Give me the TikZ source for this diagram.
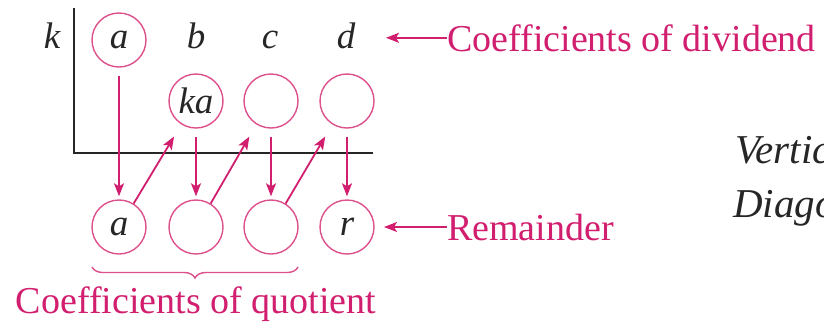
\documentclass[tikz,border=0pt]{standalone}
\usepackage{fontspec}
\setmainfont{Liberation Serif}
\usetikzlibrary{arrows.meta,decorations.pathreplacing}
\definecolor{mag}{RGB}{210,30,110}
\definecolor{ring}{RGB}{222,80,140}
\begin{document}
\begin{tikzpicture}[x=1pt,y=-1pt,
  circ/.style={circle,draw=ring,line width=1.4pt,minimum size=54pt,inner sep=0pt,
    font=\fontsize{37}{40}\selectfont\itshape,text=black!85},
  lbl/.style={text=mag,font=\fontsize{38}{40}\selectfont,anchor=base west,inner sep=0pt},
  var/.style={font=\fontsize{37}{40}\selectfont\itshape,anchor=base,inner sep=0pt,text=black!85},
  side/.style={font=\fontsize{41}{44}\selectfont\itshape,anchor=base west,inner sep=0pt,text=black!85},
  arr/.style={draw=mag,line width=1.8pt,-{Stealth[length=13pt,width=10pt,inset=3pt]}},
  axis/.style={line width=2.4pt,draw=black!85}]
\useasboundingbox (0,0) rectangle (824,325);
\clip (0,0) rectangle (824,325);
% axes
\coordinate (vt) at (74,8);
\coordinate (vb) at (74,153);
\coordinate (hr) at (373,153);
\draw[axis] (vt) -- (vb) -- (hr);
% top row
\node[var] (k) at (52,48) {k};
\node[circ] (a1) at (119,40) {a};
\node[var] (b) at (196,48) {b};
\node[var] (c) at (270,48) {c};
\node[var] (d) at (346,48) {d};
% middle row
\node[circ] (m1) at (196,101) {ka};
\node[circ] (m2) at (271,101) {};
\node[circ] (m3) at (347,101) {};
% bottom row
\node[circ] (q1) at (119,227) {a};
\node[circ] (q2) at (196,227) {};
\node[circ] (q3) at (271,227) {};
\node[circ] (q4) at (347,227) {r};
% vertical arrows
\draw[arr] ([yshift=-8pt]a1.south) -- ([yshift=3pt]q1.north);
\draw[arr] ([yshift=-8pt]m1.south) -- ([yshift=3pt]q2.north);
\draw[arr] ([yshift=-8pt]m2.south) -- ([yshift=3pt]q3.north);
\draw[arr] ([yshift=-8pt]m3.south) -- ([yshift=3pt]q4.north);
% diagonal arrows
\draw[arr,shorten >=14pt] (q1.58) -- (m1.238);
\draw[arr,shorten >=14pt] (q2.58) -- (m2.238);
\draw[arr,shorten >=14pt] (q3.58) -- (m3.238);
% labels
\node[lbl] (cd) at (447,51) {Coefficients of dividend};
\coordinate (cdend) at (386,40);
\draw[arr] (cd.west) -- (cd.west -| cdend);
\node[lbl] (rem) at (447,240) {Remainder};
\coordinate (remend) at (384,228);
\draw[arr] (rem.west) -- (rem.west -| remend);
% brace
\coordinate (bl) at (92,267);
\coordinate (br) at (298,267);
\draw[ring,line width=1.4pt,decorate,decoration={brace,mirror,amplitude=11pt}] (bl) -- (br);
\node[lbl,anchor=base] (cq) at (196,313) {Coefficients of quotient};
% side text (cut by the frame, as in the reference)
\node[side] (vp) at (735,163) {Vertical Pattern};
\node[side] (dp) at (733,217) {Diagonal Pattern};
\end{tikzpicture}
\end{document}
